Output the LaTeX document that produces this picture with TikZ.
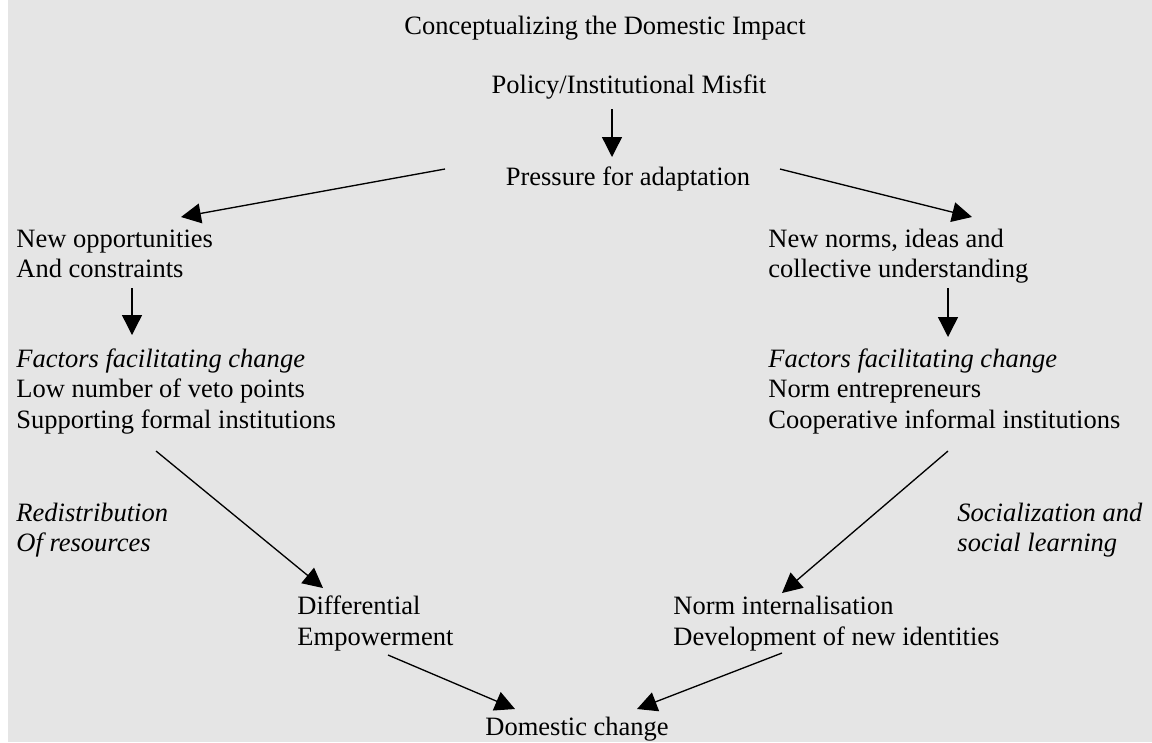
\documentclass[tikz,border=0pt]{standalone}
\usepackage{fontspec}
\setmainfont{Liberation Serif}
\usetikzlibrary{arrows.meta}
\definecolor{bggray}{HTML}{E5E5E5}

\tikzset{
  txt/.style={anchor=base west, inner sep=0pt, font=\fontsize{12}{14}\selectfont},
  arr/.style={-{Triangle[length=9pt,width=9pt]}, line width=0.6pt},
}

\begin{document}
\begin{tikzpicture}[x=0.4528pt, y=-0.4528pt]

\useasboundingbox (0,0) rectangle (1152,742);
\fill[bggray] (8,0) rectangle (1152,742);

% top
\node[txt, anchor=base] (title) at (605,34) {Conceptualizing the Domestic Impact};
\node[txt, anchor=base] (misfit) at (629,93) {Policy/Institutional Misfit};
\node[txt, anchor=base] (pressure) at (628,185) {Pressure for adaptation};

% left branch
\node[txt] (opp1) at (16,247) {New opportunities};
\node[txt] (opp2) at (16,277) {And constraints};
\node[txt] (lfac) at (16,367) {\itshape Factors facilitating change};
\node[txt] (veto) at (16,397.5) {Low number of veto points};
\node[txt] (formal) at (16,428) {Supporting formal institutions};
\node[txt] (redis1) at (16,521) {\itshape Redistribution};
\node[txt] (redis2) at (16,551) {\itshape Of resources};
\node[txt] (diff1) at (297,614) {Differential};
\node[txt] (diff2) at (297,645) {Empowerment};

% right branch
\node[txt] (norms1) at (768,247) {New norms, ideas and};
\node[txt] (norms2) at (768,277) {collective understanding};
\node[txt] (rfac) at (768,367) {\itshape Factors facilitating change};
\node[txt] (entre) at (768,397.5) {Norm entrepreneurs};
\node[txt] (informal) at (768,428) {Cooperative informal institutions};
\node[txt] (social1) at (957,521) {\itshape Socialization and};
\node[txt] (social2) at (957,551) {\itshape social learning};
\node[txt] (intern1) at (673,614) {Norm internalisation};
\node[txt] (intern2) at (673,645) {Development of new identities};

% bottom
\node[txt] (domestic) at (485,735) {Domestic change};

% arrow ends
\coordinate (misfit-out) at (612,109);
\coordinate (pressure-in) at (612,157);
\coordinate (pressure-l) at (445,169);
\coordinate (opp-in) at (181,217);
\coordinate (pressure-r) at (780,169);
\coordinate (norms-in) at (972,217);
\coordinate (opp-out) at (132,288);
\coordinate (lfac-in) at (132,335);
\coordinate (norms-out) at (948,288);
\coordinate (rfac-in) at (948,337);
\coordinate (formal-out) at (156,451);
\coordinate (diff-in) at (323,588);
\coordinate (informal-out) at (948,451);
\coordinate (intern-in) at (782,593);
\coordinate (diff-out) at (388,655);
\coordinate (domestic-l) at (515,709);
\coordinate (intern-out) at (782,653);
\coordinate (domestic-r) at (637,709);

\draw[arr] (misfit-out) -- (pressure-in);
\draw[arr] (pressure-l) -- (opp-in);
\draw[arr] (pressure-r) -- (norms-in);
\draw[arr] (opp-out) -- (lfac-in);
\draw[arr] (norms-out) -- (rfac-in);
\draw[arr] (formal-out) -- (diff-in);
\draw[arr] (informal-out) -- (intern-in);
\draw[arr] (diff-out) -- (domestic-l);
\draw[arr] (intern-out) -- (domestic-r);

\end{tikzpicture}
\end{document}
